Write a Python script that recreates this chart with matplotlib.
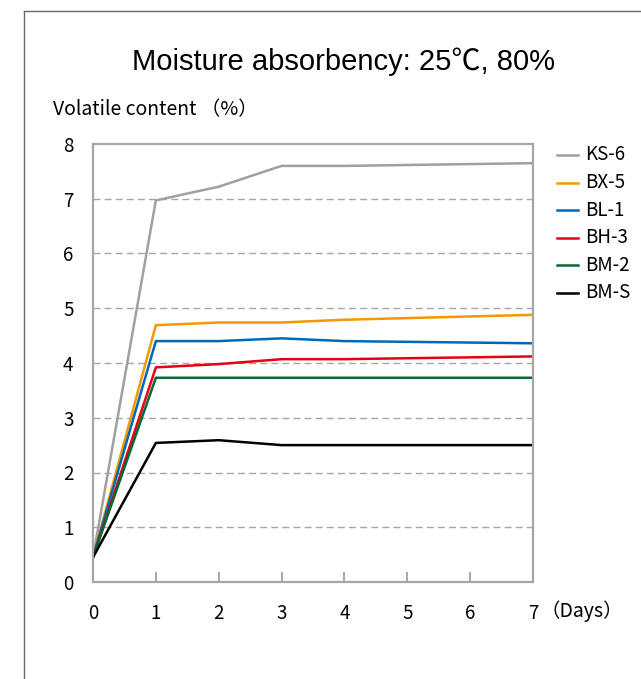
import matplotlib
matplotlib.use("Agg")
import matplotlib.pyplot as plt
from matplotlib.lines import Line2D

plt.rcParams['font.family'] = ['Noto Sans CJK JP', 'DejaVu Sans']

days = [0, 1, 2, 3, 4, 7]
series_names = ["KS-6", "BX-5", "BL-1", "BH-3", "BM-2", "BM-S"]
ks6 = [0.45, 6.97, 7.22, 7.60, 7.60, 7.65]
bx5 = [0.45, 4.69, 4.74, 4.74, 4.79, 4.88]
bl1 = [0.45, 4.40, 4.40, 4.45, 4.40, 4.36]
bh3 = [0.45, 3.92, 3.98, 4.07, 4.07, 4.12]
bm2 = [0.45, 3.73, 3.73, 3.73, 3.73, 3.73]
bms = [0.45, 2.54, 2.59, 2.50, 2.50, 2.50]
colors = ["#a0a0a0", "#f39800", "#0068b7", "#e60012", "#006934", "#000000"]
x_ticks = [0, 1, 2, 3, 4, 5, 6, 7]
y_ticks = [0, 1, 2, 3, 4, 5, 6, 7, 8]

W, H = 641, 679
fig = plt.figure(figsize=(W / 100, H / 100), dpi=100)
ax = fig.add_axes([93 / W, 1 - 582 / H, 440 / W, 438 / H])

for name, vals, c in zip(series_names, [ks6, bx5, bl1, bh3, bm2, bms], colors):
    ax.plot(days, vals, color=c, lw=1.8, label=name)

ax.set_xlim(0, 7)
ax.set_ylim(0, 8)
ax.set_xticks(x_ticks)
ax.set_yticks(y_ticks)
ax.tick_params(axis='x', direction='in', length=7, width=1.4, color='#a6a6a6',
               pad=15, labelsize=13.5)
ax.tick_params(axis='y', length=0, pad=14, labelsize=13.5)
for s in ax.spines.values():
    s.set_color('#a6a6a6')
    s.set_linewidth(1.6)

for v in y_ticks[1:-1]:
    ax.axhline(v, color='#a6a6a6', lw=1.0, ls=(0, (5, 3)), zorder=0)

fig.text(541 / W, 1 - 611 / H, "（Days）", fontsize=14, ha='left', va='center')

fig.text(344 / W, 1 - 62 / H, "Moisture absorbency: 25℃, 80%",
         fontsize=21, ha='center', va='center',
         family=['Liberation Sans', 'Noto Sans CJK JP'])
fig.text(53 / W, 1 - 110 / H, "Volatile content （%）", fontsize=14,
         ha='left', va='center')

# legend: short line swatch followed by the series name
for i, (name, c) in enumerate(zip(series_names, colors)):
    yy = 1 - (155 + 27.6 * i) / H
    fig.add_artist(Line2D([557 / W, 578 / W], [yy, yy], transform=fig.transFigure,
                          color=c, lw=1.8))
    fig.text(585 / W, yy, name, fontsize=13.5, ha='left', va='center')

# outer frame (left and top edges)
fig.add_artist(Line2D([24 / W, 24 / W], [0, 1 - 11 / H],
                      transform=fig.transFigure, color='#666666', lw=1))
fig.add_artist(Line2D([24 / W, 1], [1 - 11 / H, 1 - 11 / H],
                      transform=fig.transFigure, color='#666666', lw=1))

fig.savefig("out.png", dpi=100)
